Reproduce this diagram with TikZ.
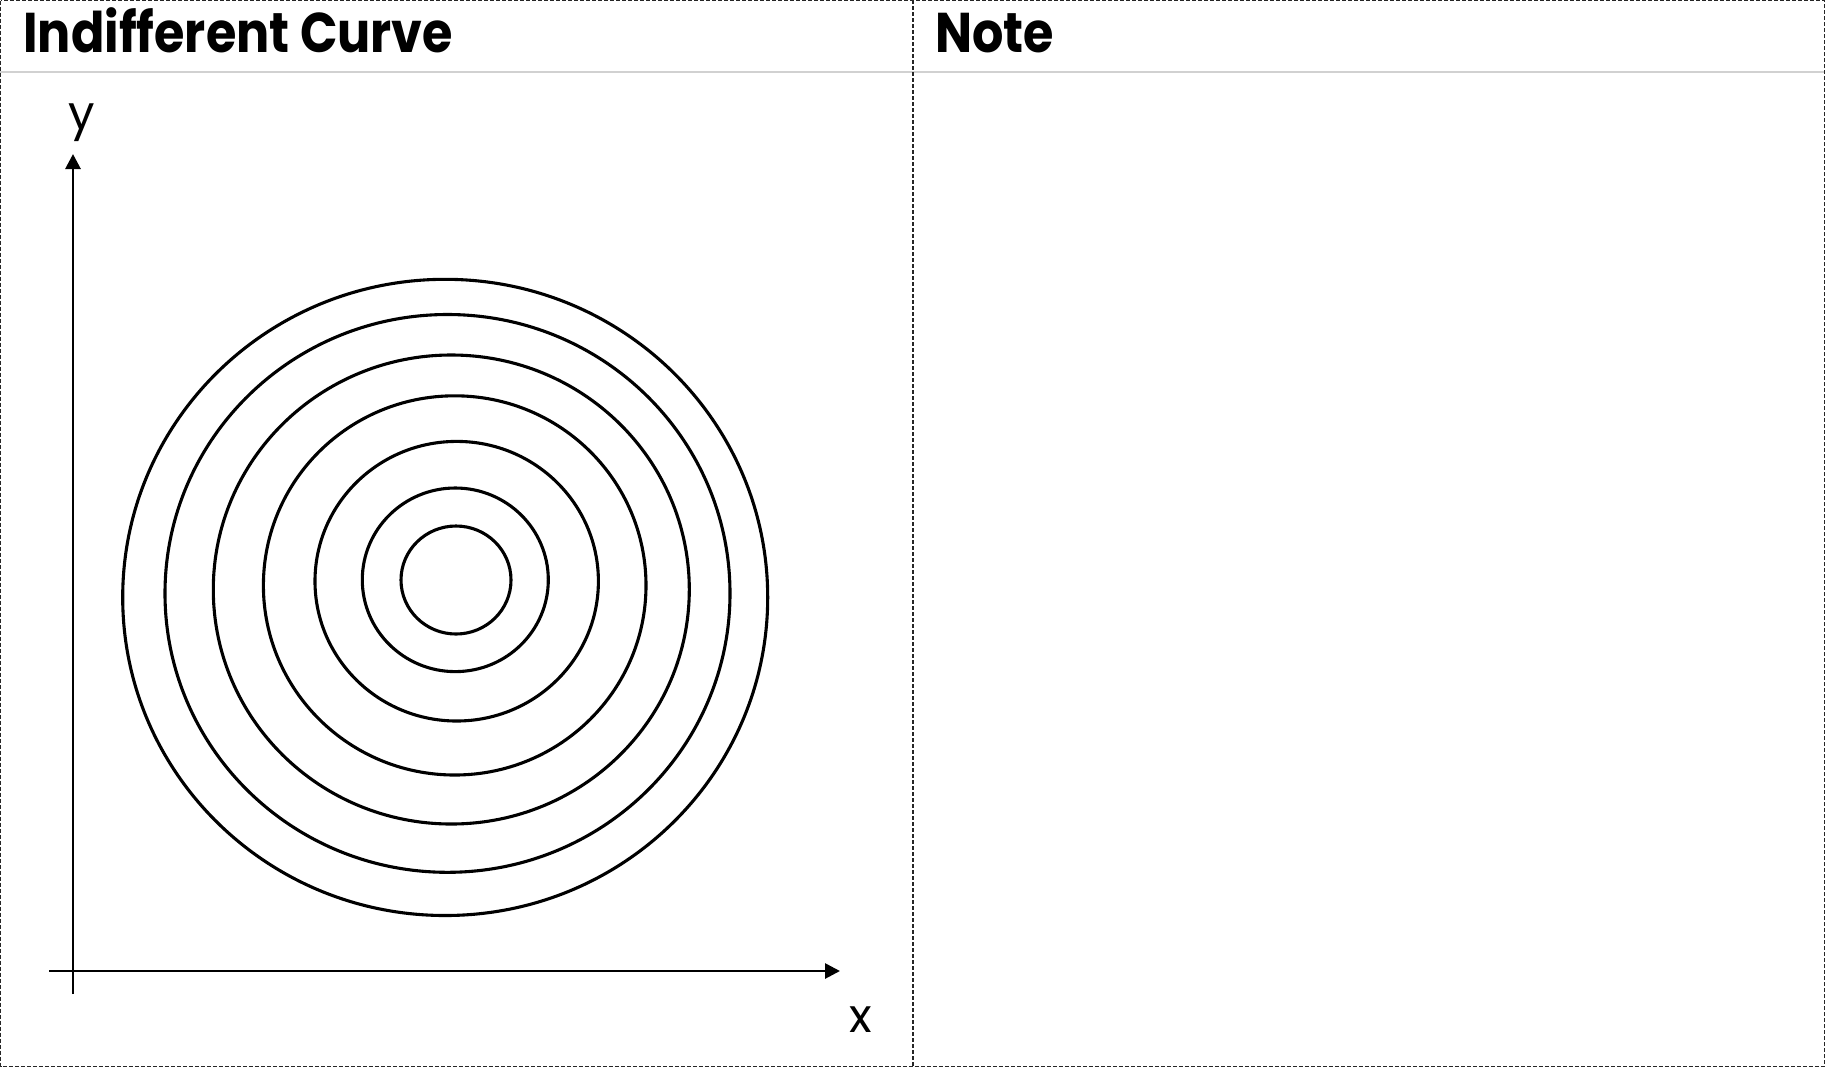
\documentclass[tikz,border=0pt]{standalone}
\usepackage{fontspec}
\setmainfont{Poppins}
\newfontfamily\headfont[FakeStretch=0.88]{Poppins}
\usetikzlibrary{arrows.meta}
\begin{document}
\begin{tikzpicture}[x=0.5pt,y=-0.5pt,
  frame/.style={draw=black!85, dash pattern=on 2pt off 1pt, line width=0.6pt},
  curve/.style={draw=black, line width=1.55pt},
  axis/.style={draw=black, line width=1.4pt, -{Triangle[length=7.5pt,width=7.5pt]}},
  title/.style={font=\headfont\bfseries\fontsize{28}{34}\selectfont, anchor=base west, inner sep=0},
  lbl/.style={font=\fontsize{23.5}{28}\selectfont, anchor=base, inner sep=0}]
\useasboundingbox (0,0) rectangle (1825,1067);
\fill[white] (0,0) rectangle (1825,1067);
\draw[black!18, line width=0.6pt] (0,72) -- (1825,72);
\draw[frame] (0.6,0.6) rectangle (1824.4,1066.4);
\draw[frame] (913,0) -- (913,1067);
\node[title] (t1) at (23,52) {Indifferent Curve};
\node[title] (t2) at (935,52) {Note};
\coordinate (o) at (73,971);
\coordinate (ytop) at (73,154);
\coordinate (ybot) at (73,994);
\coordinate (xleft) at (49,971);
\coordinate (xright) at (840,971);
\draw[axis] (ybot) -- (ytop);
\draw[axis] (xleft) -- (xright);
\node[lbl] (ylab) at (81.5,129) {y};
\node[lbl] (xlab) at (860.5,1032) {x};
\draw[curve] (456,580) ellipse [x radius=55, y radius=54];
\draw[curve] (455.3,579.8) ellipse [x radius=93, y radius=91.8];
\draw[curve] (456.7,581.2) ellipse [x radius=141.7, y radius=139.8];
\draw[curve] (454.7,585.4) ellipse [x radius=191.3, y radius=189.6];
\draw[curve] (451.3,589.5) ellipse [x radius=238, y radius=234.5];
\draw[curve] (447.5,593.4) ellipse [x radius=282.5, y radius=278.9];
\draw[curve] (445.2,597.4) ellipse [x radius=322.5, y radius=318.1];
\end{tikzpicture}
\end{document}
